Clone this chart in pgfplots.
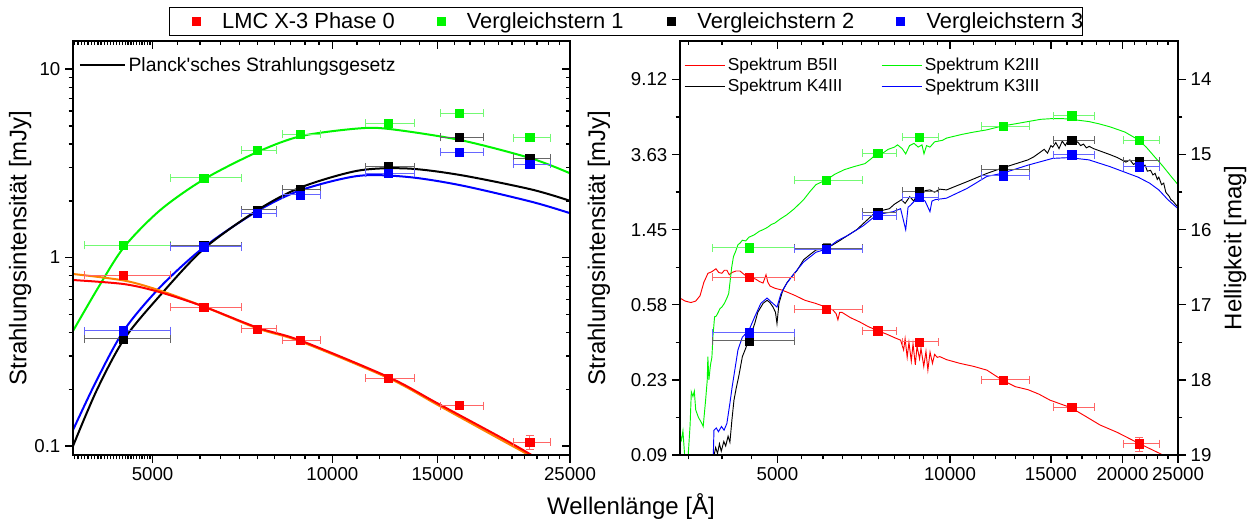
\documentclass[border=0pt]{standalone}
\usepackage{fontspec}
\setmainfont{Liberation Sans}
\usepackage{pgfplots}
\usepackage{pgfplotstable}
\pgfplotsset{compat=1.18}

\definecolor{cR}{RGB}{255,0,0}
\definecolor{cG}{RGB}{0,245,0}
\definecolor{cB}{RGB}{0,0,255}
\definecolor{cO}{RGB}{255,128,0}

% photometric points: x = wavelength [A], y = flux [mJy]
\pgfplotstableread{
x y xp xm ye
4470 0.808 890 620 0.012
6090 0.544 960 730 0.008
7480 0.418 580 440 0.006
8840 0.365 720 590 0.006
12390 0.229 1360 1020 0.004
16320 0.164 1580 1170 0.004
21400 0.1047 1760 1330 0.009
}\tabRed
\pgfplotstableread{
x y xp xm ye
4470 1.16 890 620 0.02
6090 2.645 960 730 0.03
7480 3.70 580 440 0.04
8840 4.50 720 590 0.05
12390 5.15 1360 1020 0.05
16320 5.84 1580 1170 0.06
21400 4.33 1760 1330 0.05
}\tabGreen
\pgfplotstableread{
x y xp xm ye
4470 0.370 890 620 0.01
6090 1.155 960 730 0.06
7480 1.79 580 440 0.03
8840 2.31 720 590 0.03
12390 3.03 1360 1020 0.04
16320 4.34 1580 1170 0.05
21400 3.36 1760 1330 0.08
}\tabBlack
\pgfplotstableread{
x y xp xm ye
4470 0.409 890 620 0.012
6090 1.14 960 730 0.06
7480 1.72 580 440 0.03
8840 2.15 720 590 0.03
12390 2.80 1360 1020 0.04
16320 3.62 1580 1170 0.05
21400 3.13 1760 1330 0.08
}\tabBlue

% blackbody fits (left panel)
\pgfplotstableread{
x y
3680 0.408
4063 0.700
4483 1.14
5155 1.79
6106 2.61
7504 3.64
8863 4.41
11030 4.84
12460 4.81
16390 4.20
21520 3.36
25000 2.80
}\fitGreen
\pgfplotstableread{
x y
3680 0.100
4033 0.198
4483 0.370
5155 0.633
6106 1.119
7504 1.79
8863 2.36
11030 2.89
13330 2.97
16390 2.74
21520 2.30
25000 2.00
}\fitBlack
\pgfplotstableread{
x y
3680 0.1216
4033 0.224
4483 0.413
5155 0.700
6106 1.14
7504 1.77
8863 2.28
11030 2.71
13330 2.68
16390 2.42
21520 1.98
25000 1.72
}\fitBlue
\pgfplotstableread{
x y
3680 0.760
4483 0.723
5155 0.654
6106 0.548
7504 0.424
8863 0.362
12460 0.231
14970 0.169
19050 0.112
21550 0.0896
24000 0.072
}\fitRed
\pgfplotstableread{
x y
3680 0.818
4483 0.755
5155 0.667
6106 0.548
7504 0.420
8863 0.358
12460 0.228
14970 0.166
19050 0.109
21300 0.0896
24000 0.070
}\fitOrange

% template spectra (right panel): x = wavelength [A], y = magnitude
\pgfplotstableread{
x y
3379 16.91
3450 16.95
3532 16.97
3600 16.95
3663 16.88
3720 16.70
3782 16.58
3840 16.56
3905 16.52
3950 16.57
3999 16.58
4040 16.54
4080 16.54
4120 16.60
4164 16.57
4230 16.55
4300 16.55
4380 16.60
4458 16.63
4520 16.64
4586 16.66
4650 16.69
4717 16.71
4745 16.66
4775 16.60
4810 16.70
4852 16.75
4950 16.78
5070 16.80
5194 16.83
5380 16.88
5583 16.94
5820 16.98
6075 17.03
6250 17.07
6330 17.12
6374 17.20
6420 17.10
6478 17.10
6700 17.17
6965 17.23
7200 17.29
7457 17.34
7750 17.39
8017 17.44
8200 17.47
8300 17.60
8350 17.45
8420 17.70
8480 17.50
8560 17.75
8620 17.52
8700 17.80
8760 17.55
8850 17.72
8900 17.58
9000 17.82
9080 17.62
9150 17.87
9230 17.63
9320 17.78
9400 17.66
9500 17.70
9600 17.69
9860 17.73
10410 17.78
11000 17.82
11600 17.87
12320 18.00
13000 18.09
13680 18.13
14300 18.19
14950 18.27
16260 18.37
17200 18.48
18270 18.60
19600 18.70
21290 18.84
23530 19.00
25000 19.10
}\specRed
\pgfplotstableread{
x y
3379 18.72
3400 18.80
3420 18.68
3447 19.05
3480 19.20
3520 18.60
3537 18.16
3560 18.22
3580 18.15
3600 18.40
3640 18.50
3685 18.57
3710 18.62
3746 18.27
3771 18.00
3780 17.69
3796 18.00
3820 17.80
3842 17.70
3860 17.40
3884 17.16
3910 17.15
3935 17.11
3970 17.05
3999 17.03
4040 16.98
4080 16.91
4110 16.85
4130 16.71
4160 16.50
4189 16.36
4230 16.28
4266 16.20
4300 16.18
4342 16.14
4400 16.15
4458 16.10
4550 16.07
4650 16.02
4718 16.00
4800 15.97
4880 15.93
4950 15.91
5050 15.86
5194 15.80
5350 15.72
5554 15.60
5700 15.49
5836 15.40
5950 15.37
6075 15.34
6300 15.26
6544 15.20
6800 15.16
7106 15.12
7300 15.05
7457 14.98
7600 14.99
7800 14.93
8000 14.90
8100 14.87
8250 14.92
8370 14.99
8500 14.88
8655 14.85
8800 14.90
8935 14.87
9008 14.99
9100 14.88
9227 14.90
9400 14.83
9699 14.81
9860 14.78
10500 14.73
11000 14.70
11600 14.67
12320 14.62
13000 14.59
13680 14.56
14400 14.53
15110 14.52
15700 14.52
16260 14.53
17480 14.56
18200 14.59
19020 14.63
20200 14.70
21290 14.80
22000 14.90
22760 15.03
23500 15.15
24310 15.29
25000 15.40
}\specGreen
\pgfplotstableread{
x y
3873 19.02
3900 18.90
3930 18.98
3960 18.85
3990 18.95
4030 18.82
4060 18.88
4100 18.75
4130 18.83
4164 18.53
4198 18.27
4236 18.11
4280 17.95
4342 17.69
4400 17.58
4452 17.47
4500 17.38
4563 17.25
4620 17.10
4677 17.03
4720 16.98
4795 16.94
4850 16.97
4911 17.03
4960 17.10
4990 17.25
5030 16.98
5111 16.80
5200 16.70
5286 16.63
5400 16.55
5554 16.40
5700 16.33
5836 16.27
6075 16.25
6250 16.20
6437 16.14
6650 16.07
6873 16.00
7100 15.90
7336 15.80
7457 15.76
7650 15.74
7839 15.72
8000 15.66
8232 15.60
8350 15.65
8507 15.56
8650 15.62
8794 15.49
8900 15.55
9050 15.48
9227 15.47
9400 15.50
9600 15.46
9860 15.47
10710 15.36
11600 15.25
12320 15.18
13680 15.07
14000 15.03
14360 14.97
14600 14.93
14800 14.98
15000 14.88
15110 14.90
15300 14.84
15500 14.92
15700 14.82
15900 14.88
16100 14.80
16260 14.81
16500 14.85
16700 14.83
16900 14.88
17100 14.86
17300 14.91
17500 14.89
17800 14.92
18400 14.96
19020 15.00
19600 15.04
20280 15.10
20600 15.07
20900 15.13
21290 15.10
21600 15.16
21900 15.14
22100 15.22
22390 15.21
22600 15.27
22800 15.25
23000 15.33
23140 15.30
23400 15.40
23600 15.38
23800 15.50
23910 15.52
24100 15.55
24300 15.60
24500 15.62
24800 15.67
25000 15.70
}\specBlack
\pgfplotstableread{
x y
3864 19.00
3874 18.67
3910 18.64
3945 18.69
3993 18.62
4034 18.67
4080 18.58
4130 18.31
4168 18.09
4204 17.91
4266 17.60
4342 17.43
4458 17.34
4563 17.16
4677 16.98
4795 16.91
4873 16.96
4990 17.03
5071 16.85
5194 16.71
5350 16.58
5554 16.43
5836 16.30
6075 16.26
6350 16.15
6653 16.07
7050 15.95
7457 15.80
7955 15.76
8200 15.72
8370 16.00
8450 15.70
8516 15.68
8821 15.56
9050 15.62
9227 15.76
9300 15.62
9414 15.60
9860 15.58
10710 15.45
11600 15.29
12320 15.25
13680 15.14
15110 15.05
16130 15.04
17480 15.07
19020 15.16
21290 15.30
22300 15.38
23140 15.47
24000 15.60
25000 15.72
}\specBlue

\begin{document}
\begin{tikzpicture}
\path[use as bounding box] (0pt,0pt) rectangle (945pt,393pt);

% ---------------- left panel ----------------
\begin{axis}[scale only axis, xmode=log, ymode=log,
  at={(54.75pt,51.75pt)}, anchor=south west,
  width=372.75pt, height=310.5pt,
  xmin=3680, xmax=25000, ymin=0.0896, ymax=14.1,
  axis line style={line width=1.3pt},
  tick style={line width=1pt, black},
  major tick length=6pt, minor tick length=3.3pt,
  ticklabel style={font=\fontsize{14}{16}\selectfont},
  tick align=outside, xtick pos=left, ytick pos=left,
  xtick={5000,10000,15000,25000}, xticklabels={5000,10000,15000,25000},
  minor xtick={3700,3750,3800,3850,3900,3950,4000,4050,4100,4150,4200,4250,4300,4350,4400,4450,4500,4550,4600,4650,4700,4750,4800,4850,4900,4950,5500,6000,6500,7000,7500,8000,8500,9000,9500,11000,12000,13000,14000,16000,17000,18000,19000,20000,21000,22000,23000,24000},
  ytick={0.1,1,10}, yticklabels={0.1,1,10},
  minor ytick={0.2,0.3,0.4,0.5,0.6,0.7,0.8,0.9,2,3,4,5,6,7,8,9},
  ylabel={Strahlungsintensität [mJy]},
  ylabel style={at={(axis description cs:-0.1066,0.5)}, anchor=center, font=\fontsize{18}{21}\selectfont},
  legend style={at={(axis description cs:0.012,0.942)}, anchor=west, draw=none, fill=none,
    font=\fontsize{14.5}{17}\selectfont, inner sep=0pt},
  legend image code/.code={\draw[#1] (0pt,0pt) -- (34pt,0pt);},
]
\addlegendimage{color=black, line width=1pt}
\addlegendentry{Planck\textquotesingle sches Strahlungsgesetz}
\addplot[color=cG, line width=1.5pt, smooth, no markers] table {\fitGreen};
\addplot[color=cB, line width=1.5pt, smooth, no markers] table {\fitBlue};
\addplot[color=black, line width=1.5pt, smooth, no markers] table {\fitBlack};
\addplot[color=cO, line width=1.5pt, smooth, no markers] table {\fitOrange};
\addplot[color=cR, line width=1.5pt, smooth, no markers] table {\fitRed};
\addplot[color=cG, only marks, mark=square*, mark size=3.1pt,
  error bars/.cd, x dir=both, x explicit, y dir=both, y explicit,
  error bar style={line width=0.75pt, cG!55!white},
  error mark options={rotate=90, mark size=3pt, line width=0.75pt, cG!55!white}]
  table[x=x, y=y, x error plus=xp, x error minus=xm, y error=ye] {\tabGreen};
\addplot[color=black, only marks, mark=square*, mark size=3.1pt,
  error bars/.cd, x dir=both, x explicit, y dir=both, y explicit,
  error bar style={line width=0.75pt, black!60!white},
  error mark options={rotate=90, mark size=3pt, line width=0.75pt, black!60!white}]
  table[x=x, y=y, x error plus=xp, x error minus=xm, y error=ye] {\tabBlack};
\addplot[color=cB, only marks, mark=square*, mark size=3.1pt,
  error bars/.cd, x dir=both, x explicit, y dir=both, y explicit,
  error bar style={line width=0.75pt, cB!60!white},
  error mark options={rotate=90, mark size=3pt, line width=0.75pt, cB!60!white}]
  table[x=x, y=y, x error plus=xp, x error minus=xm, y error=ye] {\tabBlue};
\addplot[color=cR, only marks, mark=square*, mark size=3.1pt,
  error bars/.cd, x dir=both, x explicit, y dir=both, y explicit,
  error bar style={line width=0.75pt, cR!60!white},
  error mark options={rotate=90, mark size=3pt, line width=0.75pt, cR!60!white}]
  table[x=x, y=y, x error plus=xp, x error minus=xm, y error=ye] {\tabRed};
\end{axis}
\begin{axis}[scale only axis, xmode=log, ymode=log,
  at={(54.75pt,51.75pt)}, anchor=south west,
  width=372.75pt, height=310.5pt,
  xmin=3680, xmax=25000, ymin=0.0896, ymax=14.1,
  axis line style={line width=1.3pt},
  tick style={line width=1pt, black},
  major tick length=6pt, minor tick length=3.3pt,
  tick align=inside, xtick pos=right, ytick pos=right,
  xtick={5000,10000,15000,25000}, xticklabels={},
  minor xtick={3700,3750,3800,3850,3900,3950,4000,4050,4100,4150,4200,4250,4300,4350,4400,4450,4500,4550,4600,4650,4700,4750,4800,4850,4900,4950,5500,6000,6500,7000,7500,8000,8500,9000,9500,11000,12000,13000,14000,16000,17000,18000,19000,20000,21000,22000,23000,24000},
  ytick={0.1,1,10}, yticklabels={},
  minor ytick={0.2,0.3,0.4,0.5,0.6,0.7,0.8,0.9,2,3,4,5,6,7,8,9},
]
\end{axis}

% ---------------- right panel: magnitude axis with spectra ----------------
\begin{axis}[scale only axis, at={(510pt,51.75pt)}, anchor=south west,
  width=373.5pt, height=310.5pt,
  xmode=log, xmin=3380, xmax=25000, ymin=13.487, ymax=19, y dir=reverse,
  axis x line=none, axis y line*=right,
  axis line style={-, line width=1.3pt},
  tick style={line width=1pt, black}, major tick length=6pt, minor tick length=3.3pt,
  tick align=outside,
  ticklabel style={font=\fontsize{14}{16}\selectfont},
  ytick={14,15,16,17,18,19}, yticklabels={14,15,16,17,18,19},
  minor ytick={14.5,15.5,16.5,17.5,18.5},
  ylabel={Helligkeit [mag]},
  ylabel style={at={(axis description cs:1.1145,0.5)}, anchor=center, font=\fontsize{18}{21}\selectfont},
  legend columns=2,
  legend style={at={(axis description cs:0.008,0.966)}, anchor=north west, draw=none, fill=none,
    font=\fontsize{13}{15}\selectfont, inner sep=0pt, row sep=1pt,
    /tikz/every even column/.append style={column sep=0pt}},
  legend cell align=left,
  legend image code/.code={\draw[#1] (0pt,0pt) -- (30pt,0pt);},
]
\addlegendimage{color=cR, line width=0.7pt}
\addlegendentry{\makebox[113pt][l]{Spektrum B5II}}
\addlegendimage{color=cG, line width=0.7pt}
\addlegendentry{Spektrum K2III}
\addlegendimage{color=black, line width=0.7pt}
\addlegendentry{\makebox[113pt][l]{Spektrum K4III}}
\addlegendimage{color=cB, line width=0.7pt}
\addlegendentry{Spektrum K3III}
\addplot[color=cR, line width=0.7pt, no markers, forget plot] table {\specRed};
\addplot[color=cG, line width=0.7pt, no markers, forget plot] table {\specGreen};
\addplot[color=black, line width=0.7pt, no markers, forget plot] table {\specBlack};
\addplot[color=cB, line width=0.7pt, no markers, forget plot] table {\specBlue};
\end{axis}

% ---------------- right panel: flux axis with photometry ----------------
\begin{axis}[scale only axis, xmode=log, ymode=log,
  at={(510pt,51.75pt)}, anchor=south west,
  width=373.5pt, height=310.5pt,
  xmin=3380, xmax=25000, ymin=0.0912, ymax=14.63,
  axis line style={line width=1.3pt},
  tick style={line width=1pt, black},
  major tick length=6pt, minor tick length=3.3pt,
  ticklabel style={font=\fontsize{14}{16}\selectfont},
  tick align=outside, xtick pos=left, ytick pos=left,
  xtick={5000,10000,15000,20000,25000}, xticklabels={5000,10000,15000,20000,25000},
  minor xtick={3500,4000,4500,5500,6000,6500,7000,7500,8000,8500,9000,9500,11000,12000,13000,14000,16000,17000,18000,19000,21000,22000,23000,24000},
  ytick={9.12,3.6307,1.4454,0.57543,0.22908,0.0912}, yticklabels={9.12,3.63,1.45,0.58,0.23,0.09},
  minor ytick={5.7544,2.2909,0.91201,0.36308,0.14454},
  ylabel={Strahlungsintensität [mJy]},
  ylabel style={at={(axis description cs:-0.1627,0.5)}, anchor=center, font=\fontsize{18}{21}\selectfont},
]
\addplot[color=cG, only marks, mark=square*, mark size=3.1pt,
  error bars/.cd, x dir=both, x explicit, y dir=both, y explicit,
  error bar style={line width=0.75pt, cG!55!white},
  error mark options={rotate=90, mark size=3pt, line width=0.75pt, cG!55!white}]
  table[x=x, y=y, x error plus=xp, x error minus=xm, y error=ye] {\tabGreen};
\addplot[color=black, only marks, mark=square*, mark size=3.1pt,
  error bars/.cd, x dir=both, x explicit, y dir=both, y explicit,
  error bar style={line width=0.75pt, black!60!white},
  error mark options={rotate=90, mark size=3pt, line width=0.75pt, black!60!white}]
  table[x=x, y=y, x error plus=xp, x error minus=xm, y error=ye] {\tabBlack};
\addplot[color=cB, only marks, mark=square*, mark size=3.1pt,
  error bars/.cd, x dir=both, x explicit, y dir=both, y explicit,
  error bar style={line width=0.75pt, cB!60!white},
  error mark options={rotate=90, mark size=3pt, line width=0.75pt, cB!60!white}]
  table[x=x, y=y, x error plus=xp, x error minus=xm, y error=ye] {\tabBlue};
\addplot[color=cR, only marks, mark=square*, mark size=3.1pt,
  error bars/.cd, x dir=both, x explicit, y dir=both, y explicit,
  error bar style={line width=0.75pt, cR!60!white},
  error mark options={rotate=90, mark size=3pt, line width=0.75pt, cR!60!white}]
  table[x=x, y=y, x error plus=xp, x error minus=xm, y error=ye] {\tabRed};
\end{axis}
\begin{axis}[scale only axis, xmode=log, ymode=log,
  at={(510pt,51.75pt)}, anchor=south west,
  width=373.5pt, height=310.5pt,
  xmin=3380, xmax=25000, ymin=0.0912, ymax=14.63,
  axis line style={line width=1.3pt},
  tick style={line width=1pt, black},
  major tick length=6pt, minor tick length=3.3pt,
  tick align=inside, xtick pos=right, ytick=\empty,
  xtick={5000,10000,15000,20000,25000}, xticklabels={},
  minor xtick={3500,4000,4500,5500,6000,6500,7000,7500,8000,8500,9000,9500,11000,12000,13000,14000,16000,17000,18000,19000,21000,22000,23000,24000},
]
\end{axis}

% ---------------- shared legend ----------------
\begin{axis}[at={(0pt,0pt)}, anchor=south west, scale only axis,
  width=945pt, height=393pt, hide axis, xmin=0, xmax=1, ymin=0, ymax=1,
  legend columns=4,
  legend style={at={(axis description cs:0.1344,0.9873)}, anchor=north west, draw=black, line width=0.6pt,
    inner xsep=16.7pt, inner ysep=2pt, font=\fontsize{16.4}{19}\selectfont,
    /tikz/every even column/.append style={column sep=0pt}},
  legend cell align=left,
  legend image code/.code={\path (0pt,0pt) (20pt,0pt); \draw[#1] plot coordinates {(3pt,0pt)};},
]
\addlegendimage{only marks, mark=square*, mark size=3pt, color=cR}
\addlegendentry{\makebox[158.9pt][l]{LMC X-3 Phase 0}}
\addlegendimage{only marks, mark=square*, mark size=3pt, color=cG}
\addlegendentry{\makebox[148.4pt][l]{Vergleichstern 1}}
\addlegendimage{only marks, mark=square*, mark size=3pt, color=black}
\addlegendentry{\makebox[147.2pt][l]{Vergleichstern 2}}
\addlegendimage{only marks, mark=square*, mark size=3pt, color=cB}
\addlegendentry{\makebox[98.3pt][l]{Vergleichstern 3}}
\end{axis}
\node[font=\fontsize{18}{21}\selectfont, anchor=center] at (473.25pt,12.75pt) {Wellenlänge [Å]};
\end{tikzpicture}
\end{document}
